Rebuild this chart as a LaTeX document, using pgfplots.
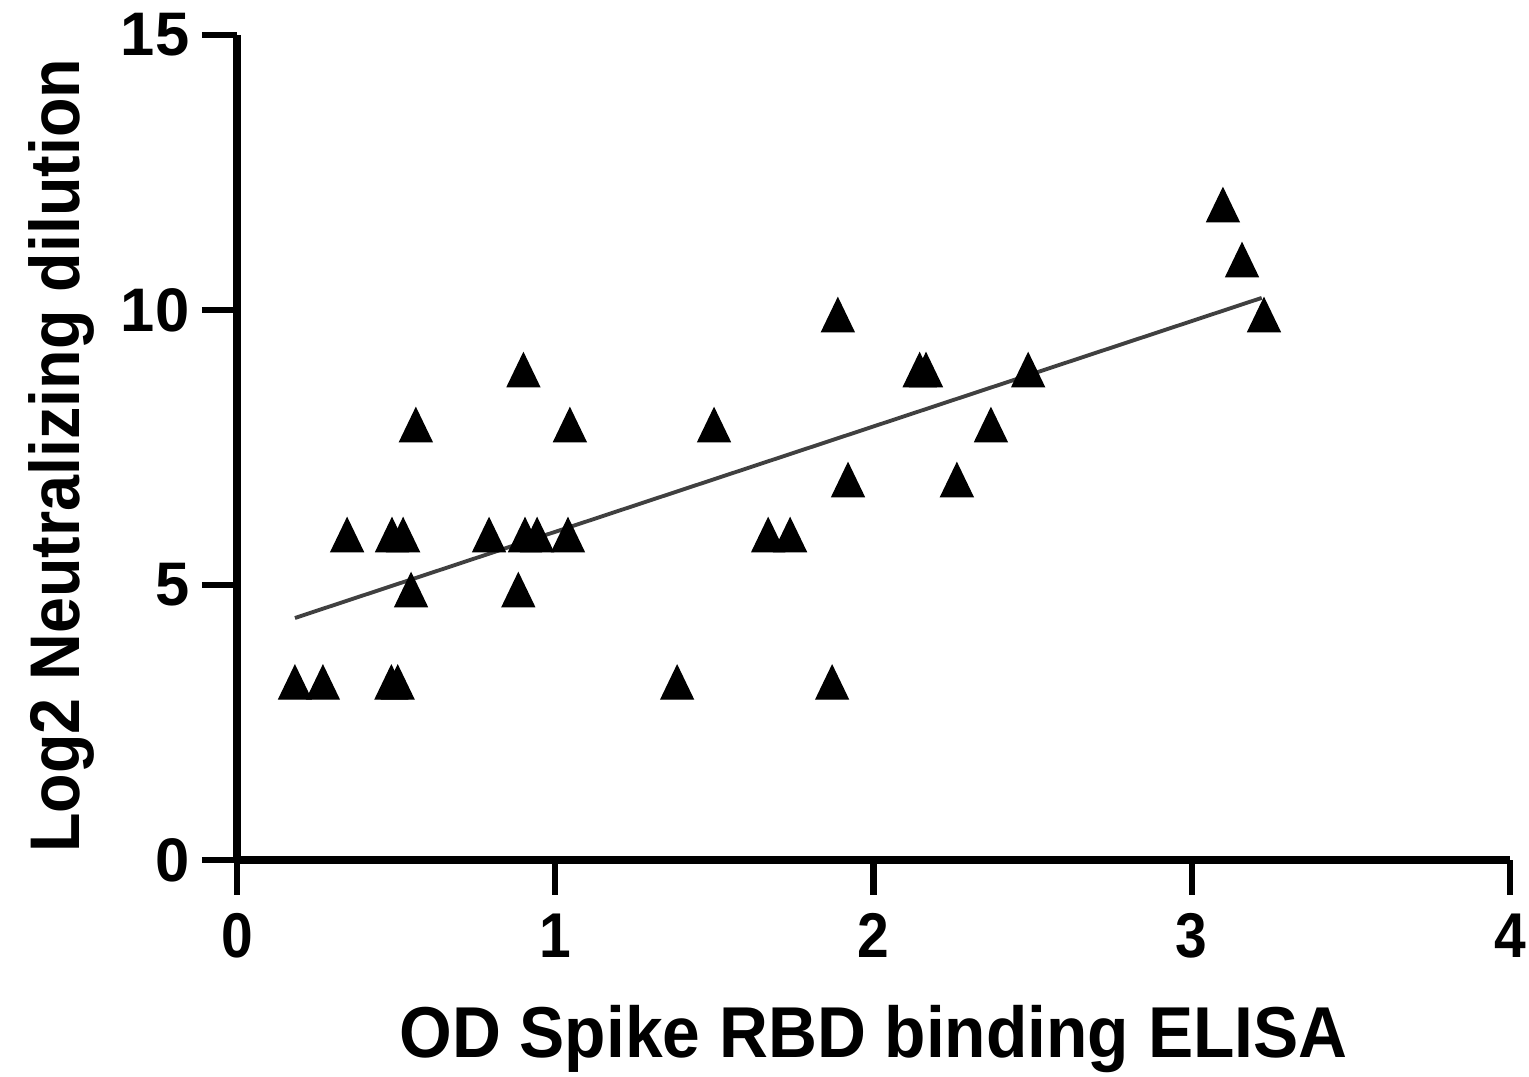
\documentclass[border=0pt]{standalone}
\usepackage{fontspec}
\setmainfont{Liberation Sans}
\newfontfamily\labelfont{Liberation Sans}[FakeStretch=0.94]
\newfontfamily\ylabelfont{Liberation Sans}[FakeStretch=0.92]
\newfontfamily\xtickfont{Liberation Sans}[FakeStretch=0.9]
\usepackage{pgfplots}
\pgfplotsset{compat=1.18}
\begin{document}
\begin{tikzpicture}
\useasboundingbox (-23.7mm,-21.7mm) rectangle (129.2mm,86.0mm);
\begin{axis}[
  at={(0,0)}, anchor=south west,
  scale only axis, width=127.3mm, height=82.5mm,
  xmin=0, xmax=4, ymin=0, ymax=15,
  xtick={0,1,2,3,4}, ytick={0,5,10,15},
  axis lines=left,
  axis line style={line width=2.3pt, -, black},
  tick style={line width=1.8pt, black},
  tick align=outside, major tick length=3.5mm,
  /pgf/number format/assume math mode=true,
  yticklabel style={font=\fontsize{17.5}{17.5}\selectfont\bfseries, inner sep=0pt, xshift=-1.2mm},
  xticklabel style={font=\xtickfont\fontsize{18}{18}\selectfont\bfseries, inner sep=0pt, yshift=-1.8mm},
  every axis x label/.style={at={(axis description cs:0.5,0)}, anchor=base, yshift=-19.8mm, font=\labelfont\fontsize{20.5}{20.5}\selectfont\bfseries},
  every axis y label/.style={at={(axis description cs:0,0.49)}, xshift=-15.7mm, rotate=90, anchor=base, font=\ylabelfont\fontsize{20}{20}\selectfont\bfseries},
  xlabel={OD Spike RBD binding ELISA},
  ylabel={Log2 Neutralizing dilution},
  clip=false,
]
\addplot[no marks, color=black!75, line width=1.1pt] coordinates {(0.182,4.40) (3.22,10.22)};
\addplot[only marks, mark=triangle*, mark size=5.27pt, mark options={fill=black, draw=black, yshift=-1.05mm, yscale=1.2}] coordinates {
(0.182,3.32) (0.27,3.32) (0.485,3.32) (0.505,3.32)
(0.346,6) (0.487,6) (0.522,6) (0.792,6) (0.905,6) (0.943,6) (1.04,6) (1.669,6) (1.738,6)
(0.547,5) (0.884,5)
(0.562,8) (1.046,8) (1.499,8) (2.369,8)
(0.90,9) (2.145,9) (2.165,9) (2.486,9)
(1.888,10)
(1.92,7) (2.262,7)
(1.383,3.32) (1.870,3.32)
(3.098,12) (3.158,11) (3.227,10)
};
\end{axis}
\end{tikzpicture}
\end{document}
